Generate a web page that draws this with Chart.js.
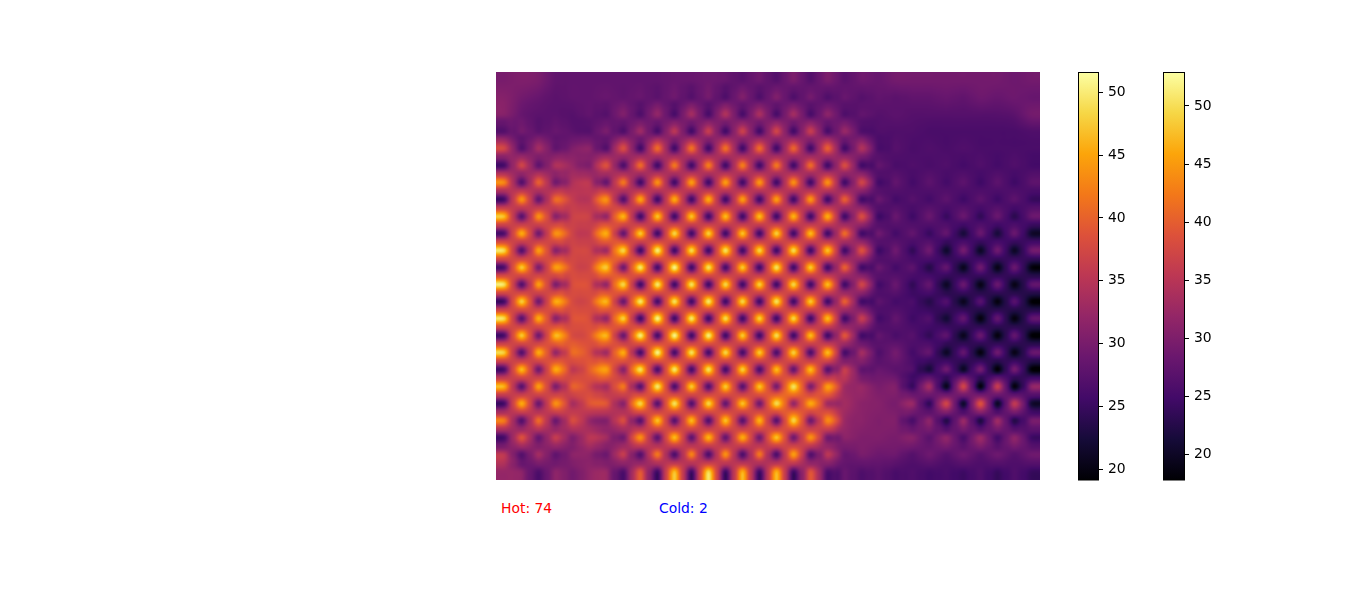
<!DOCTYPE html>
<html>
<head>
<meta charset="utf-8">
<title>Heat map</title>
<script src="https://cdn.jsdelivr.net/npm/chart.js@4"></script>
<style>
  html, body { margin: 0; padding: 0; background: #fff; }
  body { width: 1346px; height: 600px; position: relative; overflow: hidden; font-family: "DejaVu Sans", sans-serif; }
  canvas, .note { position: absolute; }
  .note { font-size: 13.9px; line-height: 16px; white-space: nowrap; }
</style>
</head>
<body>
<canvas id="heat" style="left:496px;top:72px;width:544px;height:408px"></canvas>
<canvas id="bar-left" style="left:1077px;top:71px;width:72px;height:410px"></canvas>
<canvas id="bar-right" style="left:1162px;top:71px;width:73px;height:410px"></canvas>
<div class="note" style="left:501px;top:500px;color:#ff0000">Hot: 74</div>
<div class="note" style="left:659px;top:500px;color:#0000ff">Cold: 2</div>
<script>
// one row per line (32 x 24)
const cellValues = [
  [29.5,30,29.5,27.5,27.5,27.5,27.5,27.5,27.5,27.5,28,28,28.5,28,27,28.5,26.5,29.5,26.5,29.5,27,28.5,28,29,29,29,29,29,29,29,28.5,29],
  [30.5,29,28,27,27.5,27.5,28,27.5,28,27,28.5,26.5,29,26,30,26,30,26,29,26,28,26.5,27.5,27,27.5,27.5,28,27.5,28.5,28,28.5,28],
  [30.5,28,27,27,26.5,27.5,26.5,30,26,31.5,25.5,33,25.5,34,25.5,33.5,25.5,33,25.5,31,26,27.5,26.5,27,26.5,26.5,26.5,26.5,26.5,26.5,27,29],
  [26.5,29,27,28,27,26.5,29.5,26,32.5,25.5,35,25,36,25,36.5,25,37,25,36,25.5,32,26,26,26,26,25.5,25.5,25.5,25.5,25.5,25.5,26],
  [37,26.5,33,27.5,30,31,26.5,38,25,41,25,41.5,25,41.5,25,41,25,40.5,25,40,25,34,25.5,26.5,25.5,26,25.5,26,25.5,25.5,25.5,25.5],
  [25.5,37,27.5,34,32,30,38.5,26,41,25,42,25,42.5,25,42.5,25,42,25,41,25,38,25,27.5,25.5,26,25.5,26,25,26,25,26,25],
  [43,26.5,40,29,34,35,28,42,25,44,25,45,25,45,25,44.5,25,44,25,44,25,37,25,27.5,25,27,25,27,24.5,27,24.5,27],
  [25.5,44,28,41,36,35,44,26.5,45.5,25,46,25,46,25,45,25,45,25,44.5,25,40,25,28,25,26.5,25,27,24.5,27,24.5,27,24],
  [47,27,44,31,36.5,36.5,32,46.5,25,47.5,25,47.5,25,47,25,47,25,46.5,25,46,25,38,24.5,28,24.5,28,24,28,23.5,28,23,28],
  [26.5,46,29,44,37,36,46,28,48,25,49,25,48.5,25,47.5,25,48.5,25,47,25,41,25,28.5,25,27.5,24,27.5,21.5,28,21.5,28,20.5],
  [49,26.5,45,31,37,37,33,49,25,51,25,49.5,25,50,25,49,25,49.5,25,47.5,25,38.5,24.5,28.5,23.5,28.5,20.5,29,20,28.5,20,28.5],
  [26.5,48,30,45,38,37.5,48,29,50.5,25.5,51.5,25,50,25.5,48,25,50,25,48,25,40,25,28,25,27,22.5,27.5,19.5,28.5,19,28,18.5],
  [49.5,26.5,45,30,38,38,32,49,25,50.5,25,50,25,49,25,48.5,25,49,25,47,25,37,25,28,23.5,27.5,20,28,19,28,19,27],
  [25.5,48.5,29,46,38,38,46.5,28.5,50.5,25.5,50,25,50.5,25,49,25,50,25,48,25,40,25,27,25,25.5,22.5,26,19.5,26.5,18.5,26.5,18],
  [49,27,46,31,38.5,38,32,48.5,25,51.5,25,50.5,25,49.5,25,48.5,25,49,25,47,25,36,25,27.5,24.5,26,21,27.5,18.5,27.5,18.5,27],
  [26,48,29,47,38,39,46.5,28.5,51,25.5,51.5,25,51,25,48,25,49.5,25,47,25,39,25,27.5,25.5,26.5,23.5,27,19.5,28,18.5,27.5,18],
  [48,26.5,46,32,41,38,33,46,25.5,51.5,25.5,50,25.5,49,25.5,48,26,48.5,26,47,25.5,33,26,29,25,27.5,20,27.5,18.5,28.5,19,27.5],
  [26,47,29,46,35.5,40,45,31,50,26,50.5,25.5,50,25.5,48.5,26,47,28,47,27,36,27.5,28,27,26,21.5,28.5,20,29,18,29,18],
  [46,27,45,30,40,37,33.5,42,27,50.5,26,48,26.5,48,27,47.5,29.5,50,30,45,33,32,29.5,30,24,33,19.5,37,18.5,36,18.5,31],
  [25.5,46,28.5,44,33.5,39,39,31,49,27,50,26.5,49,28,47.5,29,49.5,32,46,33,33,31,30.5,29.5,32,23.5,37,20.5,38.5,20,35.5,21],
  [42,26.5,41,28.5,38,32,30.5,38,27,47.5,27,47,26.5,47.5,27,46.5,27,49,29,43.5,32.5,31,30,30,25.5,31,22.5,32,22,32.5,22.5,29],
  [25.5,38.5,28,36,30,35,33,29,44,27.5,47,27.5,46.5,28,46,29,47.5,29,44,29,31,30,30,29.5,30.5,27,31,25.5,32,25,31,24.5],
  [35,26.5,33,27.5,31,31,28.5,36,26.5,42,26,43,26,44,26,42,26,45,26.5,35,28,29.5,28.5,28.5,26.5,28.5,26.5,28.5,26.5,28.5,26.5,28.5],
  [32,31,26,31,29,31.5,32,26,39,25,47,25,49,25,46,25,46,25,38.5,26,28,26,27,25.5,26,25,25.5,24.5,26,24,26,24],
];

const heatRange = [17.76, 52.84];
const leftBarRange = [19.15, 51.61];
const rightBarRange = [17.84, 52.92];
const barTicks = [20, 25, 30, 35, 40, 45, 50];

// inferno, every tenth of the way
const infernoStops = [
  [0, 0, 4], [22, 11, 57], [66, 10, 104], [106, 23, 110], [147, 38, 103],
  [188, 55, 84], [221, 81, 58], [243, 120, 25], [252, 165, 10], [246, 215, 70], [252, 255, 164],
];

function inferno(t) {
  const p = Math.min(Math.max(t, 0), 1) * (infernoStops.length - 1);
  const k = Math.min(Math.floor(p), infernoStops.length - 2);
  const f = p - k;
  return infernoStops[k].map((c, n) => c + (infernoStops[k + 1][n] - c) * f);
}

// Catmull-Rom weights
function weights(f) {
  return [
    -0.5 * f + f * f - 0.5 * f * f * f,
    1 - 2.5 * f * f + 1.5 * f * f * f,
    0.5 * f + 2 * f * f - 1.5 * f * f * f,
    -0.5 * f * f + 0.5 * f * f * f,
  ];
}

// squeezes the fraction so a cell's bump stays narrow and star shaped
function tighten(f, q) {
  const u = 2 * f - 1;
  return 0.5 + 0.5 * Math.sign(u) * Math.pow(Math.abs(u), q);
}

function valueAt(grid, cx, cy, q) {
  const rows = grid.length, cols = grid[0].length;
  const gx = cx - 0.5, gy = cy - 0.5;
  const ix = Math.floor(gx), iy = Math.floor(gy);
  const wx = weights(tighten(gx - ix, q)), wy = weights(tighten(gy - iy, q));
  let sum = 0;
  for (let b = 0; b < 4; b++) {
    const row = grid[Math.min(Math.max(iy + b - 1, 0), rows - 1)];
    for (let a = 0; a < 4; a++) {
      sum += wy[b] * wx[a] * row[Math.min(Math.max(ix + a - 1, 0), cols - 1)];
    }
  }
  return sum;
}

// slow part of the field: 1-2-1 blur of the cells, a bit above the middle of hot and cold.
// what is left at each cell is its bump, hot and cold kept apart so cold can stay narrower
function splitCells(grid) {
  const rows = grid.length, cols = grid[0].length;
  const at = (i, j) => grid[Math.min(Math.max(j, 0), rows - 1)][Math.min(Math.max(i, 0), cols - 1)];
  const kernel = [1, 2, 1];
  const slow = grid.map((row, j) => row.map((v, i) => {
    let s = 0;
    for (let b = -1; b <= 1; b++) {
      for (let a = -1; a <= 1; a++) s += kernel[a + 1] * kernel[b + 1] * at(i + a, j + b);
    }
    s /= 16;
    return s + 0.3 * Math.abs(v - s);
  }));
  const hot = grid.map((row, j) => row.map((v, i) => Math.max(v - slow[j][i], 0)));
  const cold = grid.map((row, j) => row.map((v, i) => Math.min(v - slow[j][i], 0)));
  return { slow, hot, cold };
}

const heatPlugin = {
  id: "heatImage",
  beforeDatasetsDraw(chart) {
    const { ctx, chartArea, scales } = chart;
    const { slow, hot, cold } = splitCells(cellValues);
    const w = Math.round(chartArea.width), h = Math.round(chartArea.height);
    const img = new ImageData(w, h);
    for (let py = 0; py < h; py++) {
      const cy = scales.y.getValueForPixel(chartArea.top + py + 0.5);
      for (let px = 0; px < w; px++) {
        const cx = scales.x.getValueForPixel(chartArea.left + px + 0.5);
        const v = valueAt(slow, cx, cy, 1) + valueAt(hot, cx, cy, 1) + valueAt(cold, cx, cy, 1.7);
        const rgb = inferno((v - heatRange[0]) / (heatRange[1] - heatRange[0]));
        const o = (py * w + px) * 4;
        img.data[o] = rgb[0];
        img.data[o + 1] = rgb[1];
        img.data[o + 2] = rgb[2];
        img.data[o + 3] = 255;
      }
    }
    ctx.putImageData(img, chartArea.left, chartArea.top);
  },
};

new Chart(document.getElementById("heat"), {
  type: "scatter",
  data: {
    datasets: [{
      data: cellValues.flatMap((row, j) => row.map((v, i) => ({ x: i + 0.5, y: j + 0.5, v }))),
      pointRadius: 0,
    }],
  },
  options: {
    responsive: false,
    animation: false,
    devicePixelRatio: 1,
    events: [],
    plugins: { legend: { display: false }, tooltip: { enabled: false } },
    scales: {
      x: { display: false, min: 0, max: cellValues[0].length },
      y: { display: false, min: 0, max: cellValues.length, reverse: true },
    },
  },
  plugins: [heatPlugin],
});

const framePlugin = {
  id: "barFrame",
  afterDraw(chart) {
    const { ctx, chartArea } = chart;
    ctx.save();
    ctx.strokeStyle = "#000";
    ctx.lineWidth = 1;
    ctx.strokeRect(chartArea.left + 0.5, chartArea.top + 0.5, chartArea.width, chartArea.height - 0.5);
    ctx.restore();
  },
};

function colorbar(id, range, barWidth) {
  const canvas = document.getElementById(id);
  new Chart(canvas, {
    type: "bar",
    data: {
      labels: [""],
      datasets: [{
        data: [range],
        barPercentage: 1,
        categoryPercentage: 1,
        borderWidth: 0,
        backgroundColor(context) {
          const area = context.chart.chartArea;
          if (!area) return "#000";
          const g = context.chart.ctx.createLinearGradient(0, area.bottom, 0, area.top);
          infernoStops.forEach((c, n) => {
            g.addColorStop(n / (infernoStops.length - 1), `rgb(${c[0]},${c[1]},${c[2]})`);
          });
          return g;
        },
      }],
    },
    options: {
      responsive: false,
      animation: false,
      devicePixelRatio: 1,
      events: [],
      layout: { padding: { left: 1, top: 1, bottom: 1, right: 0 } },
      plugins: { legend: { display: false }, tooltip: { enabled: false } },
      scales: {
        x: { display: false },
        y: {
          position: "right",
          min: range[0],
          max: range[1],
          afterFit(scale) {
            scale.width = canvas.clientWidth - 1 - barWidth;
            scale.paddingTop = 0;
            scale.paddingBottom = 0;
          },
          afterBuildTicks(scale) { scale.ticks = barTicks.map((value) => ({ value })); },
          border: { display: false },
          grid: { drawOnChartArea: false, drawTicks: true, tickLength: 5, tickColor: "#000", tickWidth: 1 },
          ticks: {
            color: "#000",
            padding: 5,
            font: { family: "DejaVu Sans", size: 13.9 },
            maxRotation: 0,
          },
        },
      },
    },
    plugins: [framePlugin],
  });
}

colorbar("bar-left", leftBarRange, 20);
colorbar("bar-right", rightBarRange, 21);
</script>
</body>
</html>
